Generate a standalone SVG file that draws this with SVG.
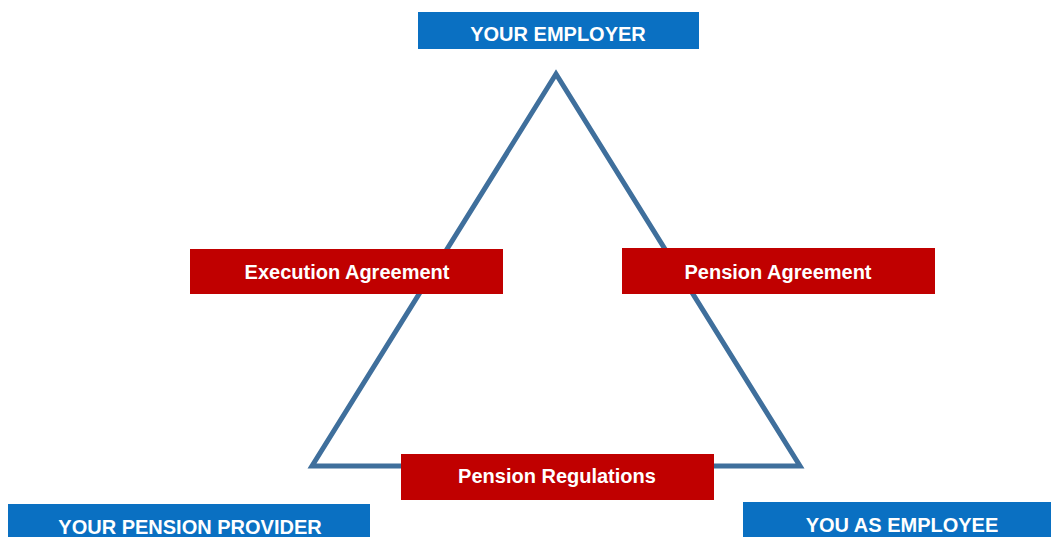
<svg xmlns="http://www.w3.org/2000/svg" width="1051" height="537" viewBox="0 0 1051 537">
<style>
.blue{fill:#0A70C2}
.red{fill:#C00000}
.t{font-family:"Liberation Sans",Arial,sans-serif;font-weight:bold;font-size:20px;fill:#ffffff;text-anchor:middle}
.tri{fill:none;stroke:#3F6F9C;stroke-width:5;stroke-linejoin:miter}
</style>
<rect width="1051" height="537" fill="#ffffff"/>
<g id="connectors">
<polygon class="tri" points="556,74 312,466 800,466"/>
</g>
<g id="employer">
<rect class="blue" x="418" y="12" width="281" height="37"/>
<text class="t" x="558" y="41">YOUR EMPLOYER</text>
</g>
<g id="execution-agreement">
<rect class="red" x="190" y="249" width="313" height="45"/>
<text class="t" x="347" y="279">Execution Agreement</text>
</g>
<g id="pension-agreement">
<rect class="red" x="622" y="248" width="313" height="46"/>
<text class="t" x="778" y="279">Pension Agreement</text>
</g>
<g id="pension-regulations">
<rect class="red" x="401" y="454" width="313" height="46"/>
<text class="t" x="557" y="483">Pension Regulations</text>
</g>
<g id="pension-provider">
<rect class="blue" x="8" y="504" width="362" height="40"/>
<text class="t" x="190" y="534">YOUR PENSION PROVIDER</text>
</g>
<g id="employee">
<rect class="blue" x="743" y="502" width="320" height="40"/>
<text class="t" x="902" y="532">YOU AS EMPLOYEE</text>
</g>
</svg>
